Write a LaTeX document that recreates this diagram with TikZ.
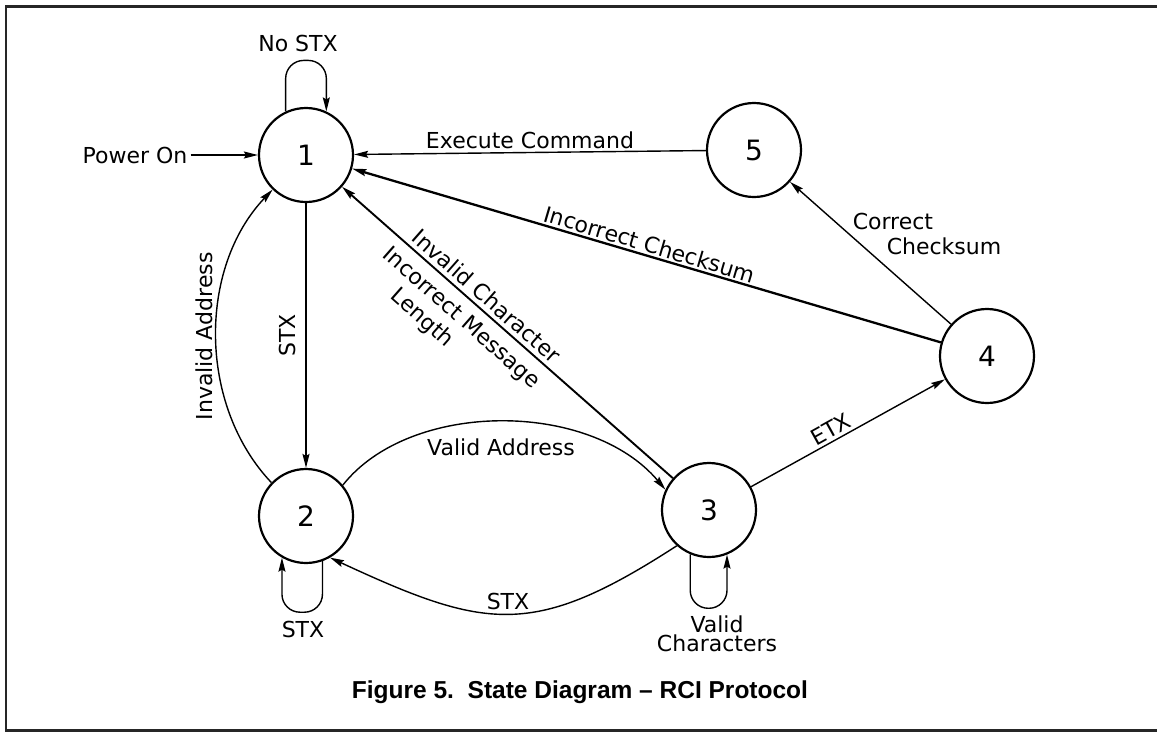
\documentclass[tikz,border=0pt]{standalone}
\usepackage{fontspec}
\setmainfont{DejaVu Sans}
\newfontfamily\capfont{Liberation Sans}
\usetikzlibrary{arrows.meta}
\begin{document}
\begin{tikzpicture}[x=1pt,y=-1pt,
  state/.style={circle, draw, line width=2.2pt, minimum size=94pt, inner sep=0pt, font=\fontsize{28}{30}\selectfont},
  lbl/.style={font=\fontsize{22}{26}\selectfont, inner sep=3pt},
  arr/.style={line width=1.4pt, -{Stealth[length=14pt,width=7pt,inset=2pt]}},
  heavy/.style={line width=2.3pt},
  looppath/.style={arr, rounded corners=18pt},
  frameline/.style={line width=2.6pt, black!85},
]
\useasboundingbox (0,0) rectangle (1157,732);
% frame
\draw[frameline] (1157,6.5) -- (6,6.5) -- (6,730.5) -- (1157,730.5);

% states
\node[state] (n1) at (306,155) {1};
\node[state] (n2) at (306,516) {2};
\node[state] (n3) at (709,510) {3};
\node[state] (n4) at (987,356) {4};
\node[state] (n5) at (754,150) {5};

% power on
\node[lbl] (pwr) at (135,155) {Power On};
\draw[arr] (pwr) -- (n1);

% self loops
\draw[looppath] (n1.115) -- ++(0,-51) -| (n1.65);
\node[lbl] (nostx) at (298,43) {No STX};
\draw[looppath] (n2.-70) -- ++(0,51) -| (n2.-120);
\node[lbl] (stxloop) at (303,629) {STX};
\draw[looppath] (n3.-113) -- ++(0,54) -| (n3.-68);
\node[lbl, align=center, font=\fontsize{22}{19}\selectfont] (validch) at (717,634) {Valid\\Characters};

% transitions
\draw[arr] (n5) -- (n1) node[lbl, midway, above] {Execute Command};
\draw[arr, heavy] (n4) -- (n1);
\path (n1) -- (n4) node[lbl, midway, sloped, above] {Incorrect Checksum};
\draw[arr, line width=1.9pt] (n3) -- (n1);
\path (n1) -- (n3)
  node[lbl, pos=0.41, sloped, above=2pt] {Invalid Character}
  node[lbl, pos=0.40, sloped, below=7pt, align=left] {Incorrect Message\\\hspace*{33pt}Length};
\draw[arr] (n3) -- (n4) node[lbl, pos=0.44, sloped, above] {ETX};
\draw[arr] (n4) -- (n5);
\node[lbl, align=left, font=\fontsize{22}{25}\selectfont] (cc) at (927,234) {Correct\\\hspace*{34pt}Checksum};
\draw[arr] (n1) -- (n2);
\path (n2) -- (n1) node[lbl, midway, sloped, above=7pt] {STX};
\draw[arr] (n2.136) .. controls (198,405) and (198,268) .. (n1.226)
  node[lbl, pos=0.5, sloped, above] {Invalid Address};
\draw[arr] (n2.40) .. controls (410,400) and (590,400) .. (n3.155)
  node[lbl, pos=0.5, below=13pt] {Valid Address};
\draw[arr] (n3.228) .. controls (533,639) and (486,630) .. (n2.-60)
  node[lbl, pos=0.5, above] {STX};

% caption
\node[font=\capfont\bfseries\fontsize{24.5}{28}\selectfont] (cap) at (580,692) {Figure 5.\ \ State Diagram – RCI Protocol};
\end{tikzpicture}
\end{document}
